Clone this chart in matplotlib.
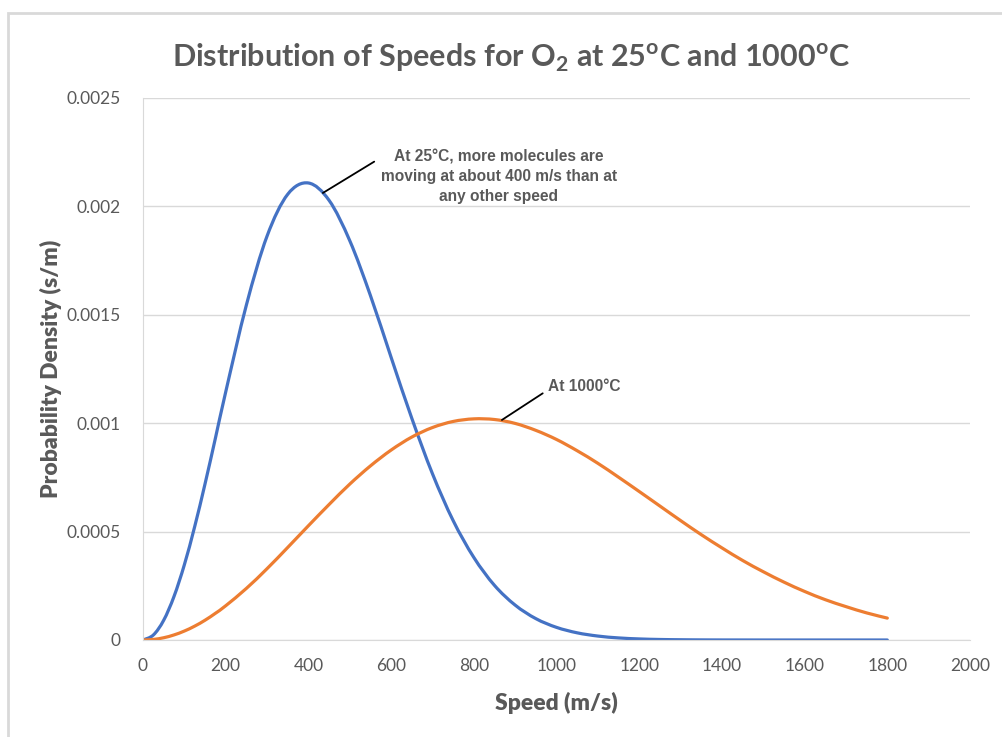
import numpy as np
import matplotlib
matplotlib.use("Agg")
from matplotlib import pyplot as plt
from matplotlib.patches import Rectangle, PathPatch
from matplotlib.path import Path

plt.rcParams["font.family"] = ["Lato", "DejaVu Sans"]
plt.rcParams["mathtext.fontset"] = "custom"
plt.rcParams["mathtext.rm"] = "Lato"
plt.rcParams["mathtext.bf"] = "Lato:bold"

# speed (m/s) and probability density (s/m)
speed = [0, 25, 50, 75, 100, 125, 150, 175, 200, 250, 300, 350, 400, 450,
         500, 550, 600, 650, 700, 750, 800, 850, 900, 950, 1000, 1050, 1100,
         1150, 1200, 1250, 1300, 1350, 1400, 1450, 1500, 1550, 1600, 1650,
         1700, 1750, 1800]
density_25 = [0, 0.0000230, 0.0000910, 0.000201, 0.000347, 0.000523, 0.000720,
              0.000930, 0.001144, 0.001545, 0.001863,
              0.002056, 0.002108, 0.002028, 0.001842, 0.001589, 0.001304,
              0.001023, 0.000767, 0.000551, 0.000381, 0.000252, 0.000161,
              0.0000986, 0.0000583, 0.0000331, 0.0000182, 0.0000096,
              0.0000049, 0.0000024, 0.0000012, 0.0000005, 0.0000002,
              0.0000001, 0, 0, 0, 0, 0, 0, 0]
density_1000 = [0, 0.0000026, 0.0000104, 0.0000234, 0.0000413, 0.0000640,
                0.0000912, 0.000123, 0.000158, 0.000238,
                0.000329, 0.000427, 0.000527, 0.000625, 0.000719, 0.000803,
                0.000876, 0.000936, 0.000980, 0.001008, 0.001020, 0.001017,
                0.000999, 0.000967, 0.000925, 0.000873, 0.000815, 0.000751,
                0.000685, 0.000618, 0.000551, 0.000486, 0.000425, 0.000367,
                0.000315, 0.000267, 0.000224, 0.000186, 0.000154, 0.000125,
                0.000101]

x_ticks = [0, 200, 400, 600, 800, 1000, 1200, 1400, 1600, 1800, 2000]
y_ticks = [0, 0.0005, 0.001, 0.0015, 0.002, 0.0025]
y_labels = ["0", "0.0005", "0.001", "0.0015", "0.002", "0.0025"]

grey = "#595959"
blue = "#4472C4"
orange = "#ED7D31"


def smooth_line(ax, x, y, color):
    # Excel-style smoothed line: Bezier segments through the data points
    pts = np.column_stack([x, y]).astype(float)
    padded = np.vstack([pts[0], pts, pts[-1]])
    verts = [pts[0]]
    codes = [Path.MOVETO]
    for i in range(len(pts) - 1):
        p0, p1, p2, p3 = padded[i], padded[i + 1], padded[i + 2], padded[i + 3]
        verts += [p1 + (p2 - p0) / 6, p2 - (p3 - p1) / 6, p2]
        codes += [Path.CURVE4] * 3
    ax.add_patch(PathPatch(Path(verts, codes), facecolor="none", edgecolor=color,
                           linewidth=2.3, capstyle="round", joinstyle="round"))


fig = plt.figure(figsize=(10.02, 7.37), dpi=100)
fig.patches.append(Rectangle((8 / 1002, -0.1), 1.2, 1.1 - 13 / 737,
                             transform=fig.transFigure, fill=False,
                             edgecolor="#d9d9d9", linewidth=2))
ax = fig.add_axes([143 / 1002, 1 - 640 / 737, 827 / 1002, 542 / 737])

smooth_line(ax, speed, density_25, blue)
smooth_line(ax, speed, density_1000, orange)

ax.set_xlim(0, 2000)
ax.set_ylim(0, 0.0025)
ax.set_xticks(x_ticks)
ax.set_yticks(y_ticks)
ax.set_yticklabels(y_labels)
ax.tick_params(length=0, labelsize=12.5, labelcolor=grey)
ax.tick_params(axis="x", pad=13)
ax.tick_params(axis="y", pad=16)
ax.grid(axis="y", color="#d9d9d9", linewidth=1)
ax.set_axisbelow(True)
for side in ["top", "right"]:
    ax.spines[side].set_visible(False)
ax.spines["left"].set_color("#d9d9d9")
ax.spines["bottom"].set_color("#d9d9d9")

ax.set_xlabel("Speed (m/s)", fontsize=16.5, fontweight="heavy", color=grey, labelpad=13)
ax.set_ylabel("Probability Density (s/m)", fontsize=16.5, fontweight="heavy", color=grey, labelpad=3)

fig.text(0.510, 1 - 58 / 737,
         r"Distribution of Speeds for O$_\mathbf{2}$ at 25$^\mathbf{o}$C and 1000$^\mathbf{o}$C",
         ha="center", va="center", fontsize=22, fontweight="bold", color=grey)

# callouts
ax.annotate("At 25\u00b0C, more molecules are\nmoving at about 400 m/s than at\nany other speed",
            xy=(435, 0.002062), xytext=(860, 0.002136),
            ha="center", va="center", fontsize=11.2, fontweight="bold", color=grey,
            family=["Liberation Sans", "DejaVu Sans"], linespacing=1.4,
            arrowprops=dict(arrowstyle="-", color="black", linewidth=1.3,
                            shrinkA=3, shrinkB=0, relpos=(0, 0.85)))
ax.annotate("At 1000\u00b0C", xy=(868, 0.001015), xytext=(979, 0.001167),
            ha="left", va="center", fontsize=11.2, fontweight="bold", color=grey,
            family=["Liberation Sans", "DejaVu Sans"],
            arrowprops=dict(arrowstyle="-", color="black", linewidth=1.3,
                            shrinkA=2, shrinkB=0, relpos=(0, 0.3)))

fig.savefig("out.png", dpi=100, facecolor="white")
